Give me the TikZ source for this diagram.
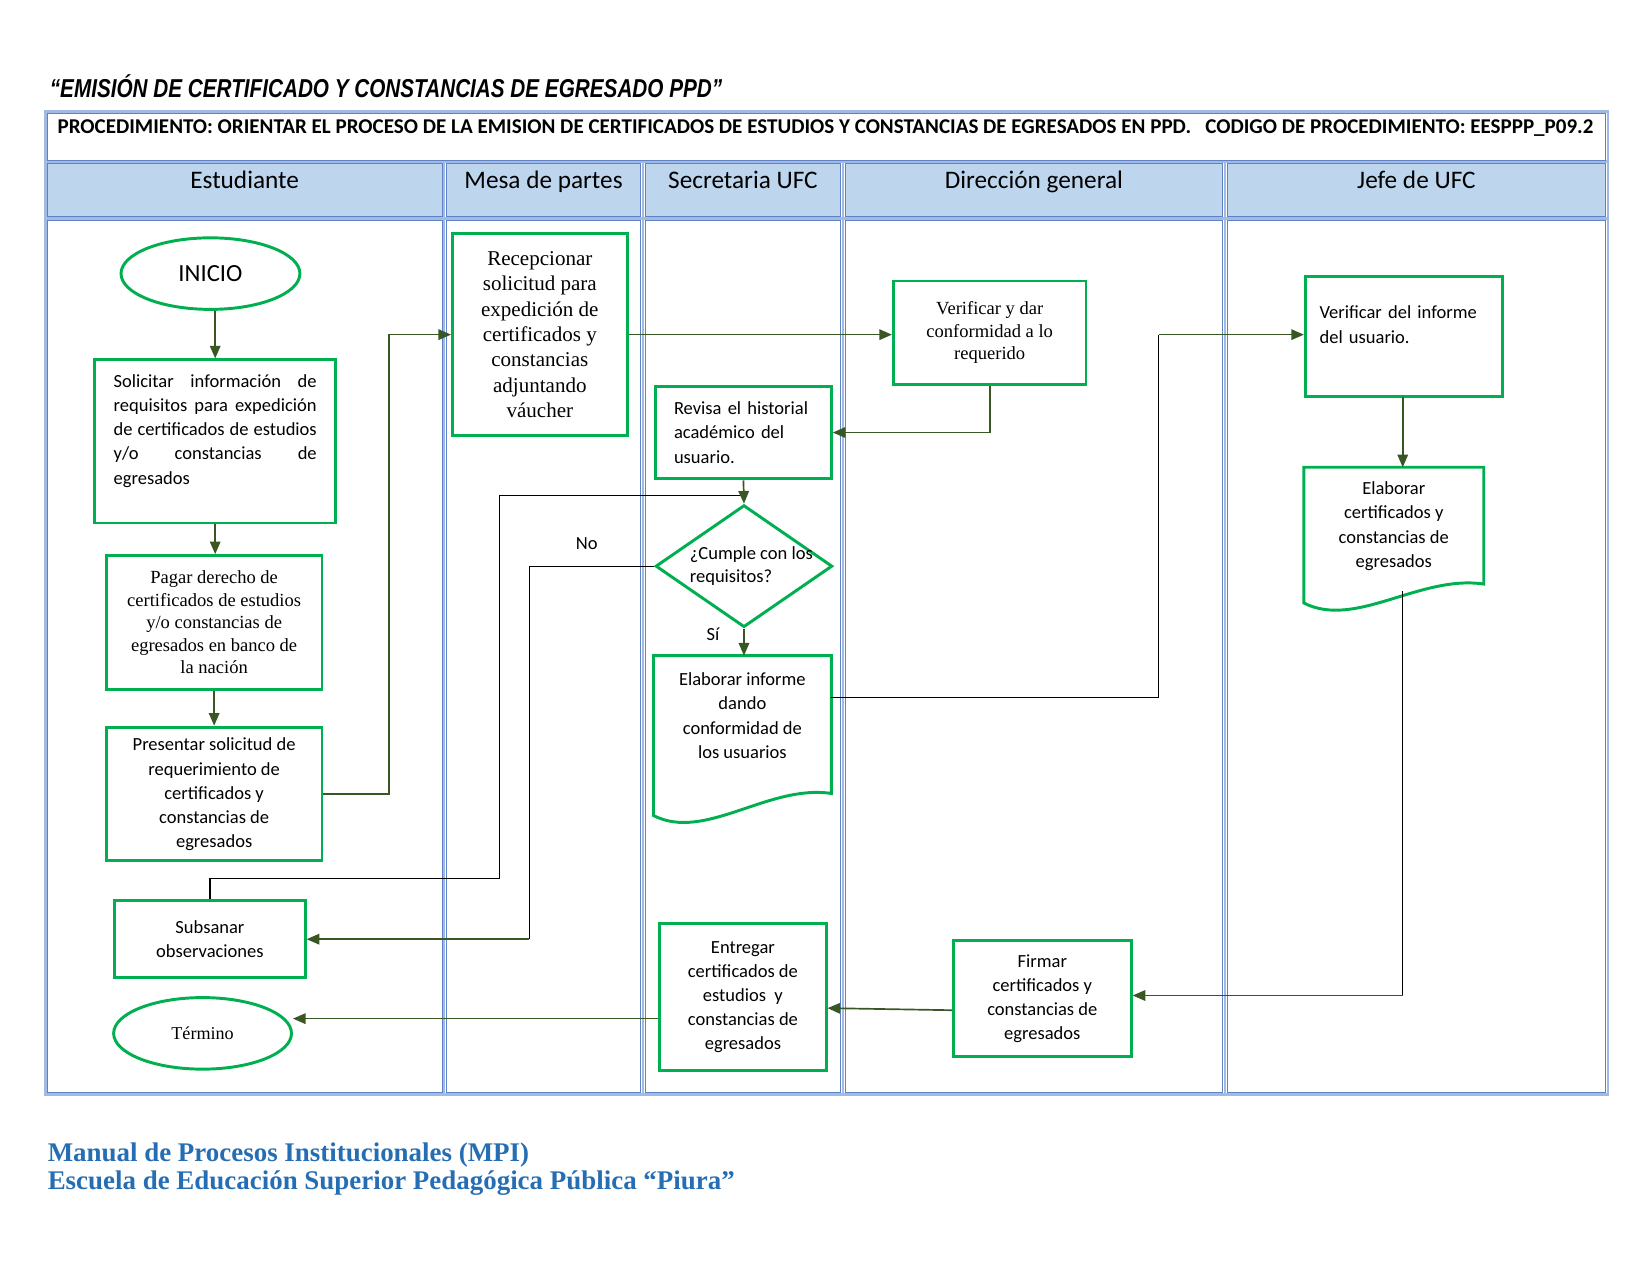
\documentclass[tikz,border=0pt]{standalone}
\usepackage{fontspec}
\setmainfont{Liberation Serif}
\newfontfamily\calib{Carlito}
\newfontfamily\narrowsans[FakeStretch=0.8]{Liberation Sans}
\usetikzlibrary{shapes.geometric,arrows.meta}
\definecolor{boxgreen}{RGB}{0,176,80}
\definecolor{flowgreen}{RGB}{56,87,35}
\definecolor{headblue}{RGB}{189,214,238}
\definecolor{lineblue}{RGB}{160,186,228}
\definecolor{cellblue}{RGB}{95,130,198}
\definecolor{footblue}{RGB}{38,110,180}
\begin{document}
\begin{tikzpicture}[x=0.5pt,y=-0.5pt,
		stepbox/.style={draw=boxgreen,line width=1.4pt,inner sep=2pt,align=center,font=\calib\fontsize{8.8}{11.5}\selectfont},
		serifbox/.style={stepbox,font=\fontsize{8.8}{10.7}\selectfont},
		startend/.style={draw=boxgreen,line width=1.4pt,ellipse,inner sep=0pt},
		question/.style={draw=boxgreen,line width=1.4pt,diamond,inner sep=0pt},
		doctext/.style={stepbox,draw=none,outer sep=0pt},
		docline/.style={draw=boxgreen,line width=1.4pt},
		flow/.style={draw=flowgreen,line width=0.8pt,-{Triangle[length=6pt,width=5pt]}},
		plain/.style={draw=black,line width=0.6pt},
		lanehead/.style={anchor=base,font=\calib\fontsize{12}{14}\selectfont},
		tblgrid/.style={draw=lineblue,line width=1.2pt},
		tblcell/.style={draw=cellblue,line width=0.4pt}]
		\useasboundingbox (0,0) rectangle (1568,1212);
		\node[anchor=west,inner sep=0pt,font=\narrowsans\bfseries\itshape\fontsize{12.3}{14}\selectfont] (title) at (47,82) {“EMISIÓN DE CERTIFICADO Y CONSTANCIAS DE EGRESADO PPD”};
		% table
		\draw[tblgrid] (43,106) rectangle (1528,1040) (43,153.5) -- (1528,153.5) (43,207.5) -- (1528,207.5);
		\draw[tblcell] (45,108) rectangle (1526,152);
		\node[font=\calib\bfseries\fontsize{10}{11}\selectfont] (proc) at (784.5,122) {PROCEDIMIENTO: ORIENTAR EL PROCESO DE LA EMISION DE CERTIFICADOS DE ESTUDIOS Y CONSTANCIAS DE EGRESADOS EN PPD.\ \ \ CODIGO DE PROCEDIMIENTO: EESPPP\_P09.2};
		\foreach \xl/\xr/\lane [count=\i] in {43/422/Estudiante,422/611/Mesa de partes,611/801/Secretaria UFC,801/1164/Dirección general,1164/1528/Jefe de UFC}{
			\draw[tblgrid] (\xl,153.5) -- (\xl,1040);
			\draw[tblcell,fill=headblue] (\xl+2,155) rectangle (\xr-2,206);
			\draw[tblcell] (\xl+2,209) rectangle (\xr-2,1038);
			\node[lanehead] (lane\i) at ({(\xl+\xr)/2},179) {\lane};
		}
		% Estudiante
		\node[startend,minimum width=85pt,minimum height=34pt,font=\calib\fontsize{11.7}{14}\selectfont] (inicio) at (200,260) {INICIO};
		\node[stepbox,minimum width=114.5pt,minimum height=77.5pt,text width=96.5pt,align=justify] (solic) at (204.5,419.5) {\hyphenpenalty=10000 Solicitar información de requisitos para expedición de certificados de estudios y/o constancias de egresados\par\mbox{}};
		\node[serifbox,minimum width=102.5pt,minimum height=63.5pt] (pagar) at (203.5,591.5) {Pagar derecho de\\certificados de estudios\\y/o constancias de\\egresados en banco de\\la nación};
		\node[stepbox,minimum width=102.5pt,minimum height=63.5pt,text depth=1pt] (pres) at (203.5,754.5) {Presentar solicitud de\\requerimiento de\\certificados y\\constancias de\\egresados};
		\node[stepbox,minimum width=90.5pt,minimum height=36.5pt] (subs) at (199.5,892.5) {Subsanar\\observaciones};
		\node[startend,minimum width=84.5pt,minimum height=34pt,font=\fontsize{8.6}{10}\selectfont] (termino) at (192.5,982) {Término};
		% Mesa de partes, Secretaria UFC
		\node[serifbox,minimum width=83pt,minimum height=96pt,font=\fontsize{10}{12.1}\selectfont] (recep) at (513,318) {Recepcionar\\solicitud para\\expedición de\\certificados y\\constancias\\adjuntando\\váucher};
		\node[stepbox,minimum width=83.5pt,minimum height=44pt,text width=66pt,align=left] (revisa) at (706.5,411) {Revisa el historial\\académico del\\usuario.};
		\node[question,minimum width=84pt,minimum height=58pt,label={[font=\calib\fontsize{8.8}{11}\selectfont,align=left,xshift=3.5pt]center:{¿Cumple con los\\requisitos?}}] (cumple) at (707,538) {};
		\node[doctext,minimum width=84.5pt,minimum height=57pt] (informe) at (705.5,680) {Elaborar informe\\dando\\conformidad de\\los usuarios};
		\draw[docline] (informe.north west) -- (informe.north east) -- (790,754) .. controls (730,745) and (670,800) .. (621,775) -- cycle;
		\node[stepbox,minimum width=79pt,minimum height=69.5pt] (entreg) at (706,947.5) {Entregar\\certificados de\\estudios\ \ y\\constancias de\\egresados};
		% Direccion general, Jefe de UFC
		\node[serifbox,minimum width=91.5pt,minimum height=49pt] (verif) at (940.5,316) {Verificar y dar\\conformidad a lo\\requerido};
		\node[stepbox,minimum width=84.5pt,minimum height=55pt] (firmar) at (990.5,949) {Firmar\\certificados y\\constancias de\\egresados};
		\node[stepbox,minimum width=93.5pt,minimum height=57pt,text width=80pt,align=left] (verinf) at (1334,320) {Verificar del informe\\del usuario.\par\mbox{}};
		\node[doctext,minimum width=85.5pt,minimum height=56pt] (elabcert) at (1324.5,500) {Elaborar\\certificados y\\constancias de\\egresados};
		\draw[docline] (elabcert.north west) -- (elabcert.north east) -- (1410,555) .. controls (1349,546) and (1288,598) .. (1239,573) -- cycle;
		% connectors
		\draw[flow] (solic.north |- inicio.south) -- (solic.north);
		\draw[flow] (solic.south) -- (solic.south |- pagar.north);
		\draw[flow] (pagar.south) -- (pres.north);
		\draw[flow] (pres.east) -- ++(62,0) |- (recep.west);
		\draw[flow] (recep.east) -- (verif.west |- recep.east);
		\draw[flow] (verif.south) |- (revisa.east);
		\coordinate (back) at (706.5,471);
		\draw[plain] (subs.north) -- ++(0,-20) -| (475,471) -- (back);
		\draw[flow] (revisa.south) -- (cumple.north);
		\coordinate (nobend) at (503,892.5);
		\draw[plain] (cumple.west) -- node[pos=0.54,above=4pt,font=\calib\fontsize{8.8}{11}\selectfont] (no) {No} (cumple.west -| nobend) -- (nobend);
		\draw[flow] (nobend) -- (subs.east);
		\draw[flow] (cumple.south) -- node[pos=0.2,left=8pt,font=\calib\fontsize{8.8}{11}\selectfont] (si) {Sí} (cumple.south |- informe.north);
		\coordinate (up) at (1101,318);
		\draw[plain] (informe.north east) ++(0,40) -| (up);
		\draw[flow] (up) -- (verinf.west |- up);
		\draw[flow] (1333,377) -- (1333,444);
		\coordinate (certout) at (1333,562);
		\draw[plain] (certout) -- (certout |- 0,946);
		\draw[flow] (certout |- 0,946) -- (firmar.east |- 0,946);
		\draw[flow] (firmar.west |- 0,960) -- (entreg.east |- 0,958);
		\draw[flow] (entreg.west |- 0,968) -- (termino.east |- 0,968);
		\node[anchor=west,inner sep=0pt,align=left,text=footblue,font=\bfseries\fontsize{12.8}{13.5}\selectfont] (footer) at (45,1111) {Manual de Procesos Institucionales (MPI)\\Escuela de Educación Superior Pedagógica Pública “Piura”};
	\end{tikzpicture}
\end{document}
